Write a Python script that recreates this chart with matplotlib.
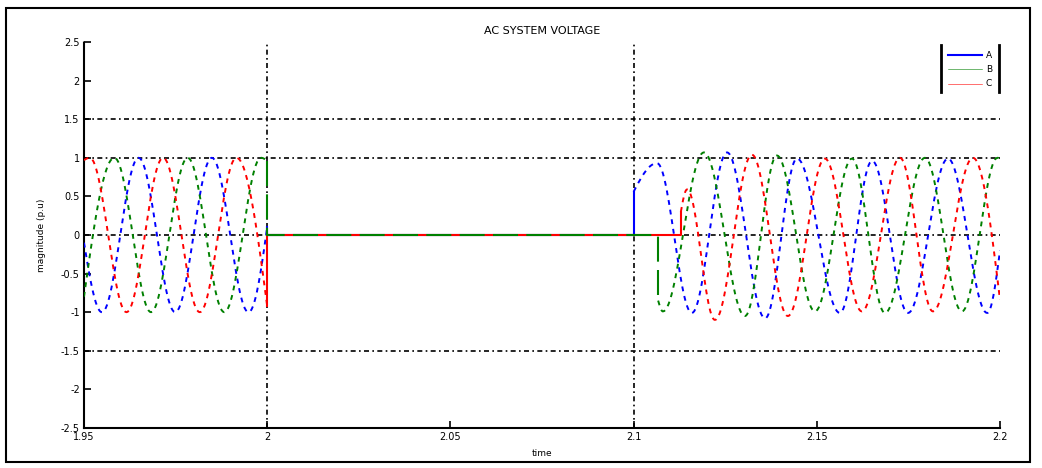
import numpy as np
import matplotlib
matplotlib.use('Agg')
import matplotlib.pyplot as plt
from matplotlib.patches import Rectangle
from matplotlib.lines import Line2D

# extrema of each phase: time (s), value (p.u.)
# phase A (blue)
a_pre_t = [1.9549, 1.9649, 1.9749, 1.9849, 1.9949]
a_pre_v = [-1.0, 1.0, -1.0, 1.0, -1.0]
a_pre_ends = [-0.1, 0.1]          # value at 1.95 and at 2.0
a_post_t = [2.1064, 2.1159, 2.1255, 2.1359, 2.1446, 2.1563, 2.1651, 2.1749, 2.1858, 2.1965]
a_post_v = [0.93, -1.01, 1.07, -1.08, 0.99, -1.01, 0.96, -1.01, 0.99, -1.01]
a_post_ends = [0.56, -0.2]        # value at reclose and at 2.2
a_reclose = 2.1

# phase B (green)
b_pre_t = [1.9583, 1.9683, 1.9783, 1.9883, 1.9983]
b_pre_v = [1.0, -1.0, 1.0, -1.0, 1.0]
b_pre_ends = [-0.8, 0.96]
b_post_t = [2.1080, 2.1192, 2.1304, 2.1391, 2.1495, 2.1596, 2.1686, 2.1795, 2.1896, 2.1993]
b_post_v = [-0.99, 1.07, -1.05, 1.03, -0.99, 0.99, -1.01, 1.0, -0.99, 1.0]
b_post_ends = [-0.85, 0.99]
b_reclose = 2.1067

# phase C (red)
c_pre_t = [1.9516, 1.9616, 1.9716, 1.9816, 1.9916]
c_pre_v = [1.0, -1.0, 1.0, -1.0, 1.0]
c_pre_ends = [0.97, -0.92]
c_post_t = [2.1146, 2.1222, 2.1323, 2.1421, 2.1522, 2.1623, 2.1727, 2.1817, 2.1926]
c_post_v = [0.59, -1.1, 1.04, -1.05, 0.99, -0.99, 1.0, -0.99, 1.0]
c_post_ends = [0.3, -0.84]
c_reclose = 2.1129

t_start = 1.95
t_fault = 2.0
t_end = 2.2

y_ticks = [2.5, 2, 1.5, 1, 0.5, 0, -0.5, -1, -1.5, -2, -2.5]
x_ticks = [1.95, 2.0, 2.05, 2.1, 2.15, 2.2]
x_labels = ['1.95', '2', '2.05', '2.1', '2.15', '2.2']
phase_names = ['A', 'B', 'C']
colors = ['#0000ff', '#008000', '#ff0000']


def wave(t0, v0, ext_t, ext_v, t1, v1, n=30):
    # smooth curve through the read extrema (flat at each extremum)
    kt = [t0] + list(ext_t) + [t1]
    kv = [v0] + list(ext_v) + [v1]
    ts, vs = [], []
    last = len(kt) - 2
    for i in range(len(kt) - 1):
        s = np.linspace(0, 1, n)
        if i == 0:
            w = np.sin(s * np.pi / 2)
        elif i == last:
            w = 1 - np.cos(s * np.pi / 2)
        else:
            w = (1 - np.cos(s * np.pi)) / 2
        ts.append(kt[i] + (kt[i + 1] - kt[i]) * s)
        vs.append(kv[i] + (kv[i + 1] - kv[i]) * w)
    return np.concatenate(ts), np.concatenate(vs)


fig = plt.figure(figsize=(10.42, 4.68), dpi=100)
ax = fig.add_axes([0.0806, 0.0855, 0.8791, 0.8248])

# grid lines that show in the picture
for y in [1.5, 1, 0, -1.5]:
    ax.axhline(y, color='k', lw=1.2, ls=(0, (3, 2, 1, 2)), zorder=1)
for x in [2.0, 2.1]:
    ax.axvline(x, color='k', lw=1.2, ls=(0, (3, 2, 1, 2)), zorder=1)

phases = [
    (a_pre_t, a_pre_v, a_pre_ends, a_post_t, a_post_v, a_post_ends, a_reclose),
    (b_pre_t, b_pre_v, b_pre_ends, b_post_t, b_post_v, b_post_ends, b_reclose),
    (c_pre_t, c_pre_v, c_pre_ends, c_post_t, c_post_v, c_post_ends, c_reclose),
]

for k, (pt, pv, pe, qt, qv, qe, tr) in enumerate(phases):
    col = colors[k]
    t, v = wave(t_start, pe[0], pt, pv, t_fault, pe[1])
    ax.plot(t, v, color=col, lw=1.4, ls=(0, (2.5, 2.5)), zorder=3)
    # fault: drop to zero, then step back at reclose
    if k == 1:
        fls = (0, (12, 4))
    else:
        fls = '-'
    ax.plot([t_fault, t_fault, tr, tr], [pe[1], 0, 0, qe[0]], color=col, lw=1.5, ls=fls,
            zorder=3 + (k == 1))
    t, v = wave(tr, qe[0], qt, qv, t_end, qe[1])
    ax.plot(t, v, color=col, lw=1.4, ls=(0, (2.5, 2.5)), zorder=3)

ax.set_xlim(t_start, t_end)
ax.set_ylim(-2.5, 2.5)
ax.set_xticks(x_ticks)
ax.set_xticklabels(x_labels)
ax.set_yticks(y_ticks)
ax.set_yticklabels([f'{y:g}' for y in y_ticks])
ax.tick_params(direction='in', length=5, width=1.2, labelsize=7, pad=3)
ax.spines['top'].set_visible(False)
ax.spines['right'].set_visible(False)
ax.spines['left'].set_linestyle((0, (1, 1)))
ax.spines['left'].set_linewidth(1.5)
ax.spines['bottom'].set_linewidth(1.5)

ax.set_title('AC SYSTEM VOLTAGE', fontsize=8, pad=6)
ax.set_xlabel('time', fontsize=6.5, labelpad=5)
ax.set_ylabel('magnitude (p.u)', fontsize=6.5, labelpad=11)

# legend: only side bars of the box are drawn
fig.add_artist(Line2D([941 / 1042, 941 / 1042], [1 - 45 / 468, 1 - 92 / 468], color='k', lw=2))
fig.add_artist(Line2D([999 / 1042, 999 / 1042], [1 - 45 / 468, 1 - 92 / 468], color='k', lw=2))
leg_y = [55, 69, 84]
for k, name in enumerate(phase_names):
    yy = 1 - leg_y[k] / 468
    lw = 1.5 if k == 0 else 0.4
    fig.add_artist(Line2D([948 / 1042, 982 / 1042], [yy, yy], color=colors[k], lw=lw))
    fig.text(986 / 1042, yy, name, fontsize=6.5, va='center', ha='left')

# outer border of the figure
fig.add_artist(Rectangle((6 / 1042, 1 - 462 / 468), 1024 / 1042, 454 / 468, transform=fig.transFigure,
                         fill=False, ec='k', lw=1.5))

fig.savefig('out.png', dpi=100)
